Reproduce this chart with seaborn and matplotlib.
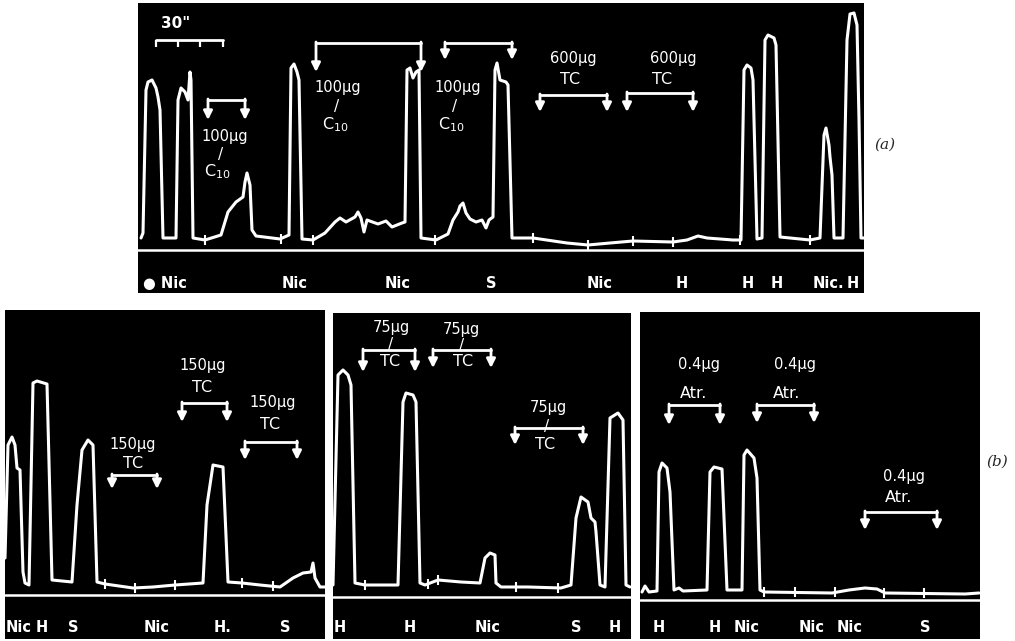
import matplotlib
matplotlib.use("Agg")
import numpy as np
import matplotlib.pyplot as plt
import seaborn as sns

# ---- kymograph traces (time units, height above recorder line) ----
A_T = [3, 5, 8, 10, 14, 18, 20, 22, 25, 38, 40, 43, 47, 50, 52, 53, 55, 67, 83, 90, 98, 105, 107, 109,
       112, 114, 118, 142, 151, 153, 156, 159, 161, 164, 175, 187, 197, 202, 208, 217, 220, 223, 226,
       229, 240, 248, 254, 264, 267, 269, 272, 275, 278, 281, 283, 298, 310, 315, 320, 322, 325, 328,
       332, 338, 344, 348, 351, 355, 357, 359, 362, 368, 370, 374, 395, 429, 450, 472, 495, 535, 549,
       560, 569, 595, 603, 606, 609, 613, 615, 619, 624, 627, 630, 636, 638, 642, 652, 672, 682, 686,
       688, 691, 692, 694, 696, 705, 709, 712, 716, 719, 721, 723, 726]
A_H = [12, 17, 160, 168, 170, 162, 153, 140, 12, 12, 150, 162, 158, 150, 178, 170, 12, 10, 15, 38, 48,
       53, 68, 77, 65, 20, 14, 11, 15, 182, 186, 178, 170, 11, 10, 17, 28, 32, 28, 33, 38, 32, 18, 30,
       26, 29, 23, 27, 28, 180, 182, 172, 178, 180, 12, 10, 16, 30, 38, 44, 47, 37, 31, 28, 30, 22, 30,
       33, 180, 187, 170, 168, 165, 12, 12, 7, 5, 7, 9, 8, 10, 14, 12, 10, 10, 180, 185, 182, 170, 11,
       12, 210, 215, 212, 205, 13, 12, 10, 12, 115, 122, 105, 93, 75, 12, 12, 210, 236, 237, 225, 130,
       12, 12]
A_MARKS = [67, 143, 175, 297, 395, 450, 495, 535, 602, 672]
A_LABELS = ["● Nic", "Nic", "Nic", "S", "Nic", "H", "H", "H", "Nic.", "H"]
A_LABEL_T = [27, 157, 260, 353, 462, 544, 610, 639, 690, 715]

B1_T = [0, 3, 7, 10, 12, 15, 18, 20, 24, 28, 32, 42, 47, 67, 72, 77, 83, 88, 92, 100, 128, 148, 170,
        198, 202, 208, 218, 223, 237, 255, 275, 288, 298, 306, 308, 310, 315, 320]
B1_H = [37, 150, 158, 150, 127, 125, 23, 12, 10, 212, 214, 211, 15, 13, 90, 145, 155, 150, 13, 11, 7,
        8, 10, 12, 90, 130, 128, 13, 12, 10, 8, 17, 22, 23, 32, 17, 8, 8]
B1_MARKS = [100, 130, 170, 237, 268]
B1_LABELS = ["Nic", "H", "S", "Nic", "H.", "S"]
B1_LABEL_T = [14, 37, 68, 152, 218, 280]

B2_T = [0, 5, 10, 15, 18, 22, 32, 65, 70, 73, 80, 83, 87, 92, 105, 128, 147, 152, 157, 162, 163, 168,
        195, 228, 238, 243, 248, 255, 258, 262, 263, 267, 272, 277, 285, 290, 293, 297]
B2_H = [12, 222, 227, 222, 212, 14, 12, 12, 195, 204, 202, 195, 14, 12, 17, 15, 14, 39, 44, 42, 14, 10,
        10, 9, 12, 79, 100, 95, 79, 75, 65, 12, 10, 179, 184, 177, 12, 10]
B2_MARKS = [32, 95, 105, 183, 225]
B2_LABELS = ["H", "H", "Nic", "S", "H"]
B2_LABEL_T = [7, 77, 155, 243, 282]

B3_T = [2, 5, 9, 17, 19, 22, 27, 30, 34, 39, 43, 67, 70, 74, 82, 87, 102, 104, 107, 114, 117, 120, 124,
        192, 209, 225, 237, 245, 325, 339]
B3_H = [8, 14, 8, 9, 128, 137, 132, 108, 10, 12, 9, 10, 128, 133, 131, 10, 10, 145, 150, 142, 122, 10,
        8, 7, 10, 12, 11, 7, 6, 7]
B3_MARKS = [124, 155, 195, 244, 284]
B3_LABELS = ["H", "H", "Nic", "Nic", "Nic", "S"]
B3_LABEL_T = [19, 75, 107, 172, 210, 285]

# doses: (amount, substance) with bracket (start, end, bar height, arrow tip)
A_DOSES = [("100µg", "C$_{10}$", 87, 114, 79, 78, 70, 107, 150, 130),
           ("100µg", "C$_{10}$", 200, 163, 197, 125, 178, 283, 207, 178),
           ("100µg", "C$_{10}$", 320, 163, 313, 125, 307, 374, 207, 190),
           ("600µg", "TC", 435, 192, 432, 171, 402, 469, 155, 138),
           ("600µg", "TC", 535, 192, 524, 171, 489, 555, 157, 138)]
B1_DOSES = [("150µg", "TC", 128, 150, 128, 131, 107, 152, 120, 106),
            ("150µg", "TC", 198, 229, 197, 207, 177, 222, 192, 173),
            ("150µg", "TC", 268, 192, 265, 170, 240, 292, 153, 135)]
B2_DOSES = [("75µg", "TC", 58, 269, 57, 235, 30, 82, 247, 225),
            ("75µg", "TC", 128, 267, 130, 235, 100, 158, 247, 229),
            ("75µg", "TC", 215, 189, 212, 152, 182, 250, 169, 152)]
B3_DOSES = [("0.4µg", "Atr.", 59, 235, 54, 207, 29, 80, 195, 175),
            ("0.4µg", "Atr.", 155, 235, 147, 207, 117, 174, 195, 177),
            ("0.4µg", "Atr.", 264, 124, 259, 102, 225, 297, 88, 70)]

sns.set_theme(style="white")
plt.rcParams["font.family"] = ["DejaVu Sans"]

W_PX, H_PX = 1015, 641
fig = plt.figure(figsize=(W_PX / 100, H_PX / 100), dpi=100)
fig.patch.set_facecolor("white")


def make_ax(box, base):
    left, top, right, bottom = box
    ax = fig.add_axes([left / W_PX, 1 - bottom / H_PX, (right - left) / W_PX, (bottom - top) / H_PX])
    ax.set_facecolor("black")
    ax.set_xlim(0, right - left)
    ax.set_ylim(base - bottom, base - top)
    ax.set_xticks([])
    ax.set_yticks([])
    for s in ax.spines.values():
        s.set_visible(False)
    return ax


def draw_panel(ax, t, h, marks, labels, label_t, label_y, doses):
    sns.lineplot(x=t, y=h, ax=ax, color="white", lw=2.2, sort=False, estimator=None)
    ax.axhline(0, color="white", lw=1.8)
    mh = np.interp(marks, t, h)
    ax.vlines(marks, mh - 5, mh + 5, color="white", lw=1.5)
    for lab, x in zip(labels, label_t):
        ax.text(x, label_y, lab, color="white", ha="center", va="center",
                fontsize=10.5, fontweight="bold")
    for amt, sub, ax_, ay, sx, sy, x0, x1, yb, yt in doses:
        ax.text(ax_, ay, amt, color="white", ha="center", va="center", fontsize=10.5)
        ax.text(sx, sy, sub, color="white", ha="center", va="center", fontsize=11.5)
        if ay - sy > 30:  # hand-drawn stroke joining dose and drug
            ax.text((ax_ + sx) / 2, (ay + sy) / 2, "/", color="white", ha="center",
                    va="center", fontsize=11)
        ax.plot([x0, x1], [yb, yb], color="white", lw=2)
        for x in (x0, x1):
            ax.annotate("", xy=(x, yt), xytext=(x, yb + 1),
                        arrowprops=dict(arrowstyle="-|>", color="white", lw=2,
                                        mutation_scale=13, shrinkA=0, shrinkB=0))


ax_a = make_ax((138, 3, 864, 293), 250)
draw_panel(ax_a, A_T, A_H, A_MARKS, A_LABELS, A_LABEL_T, -33, A_DOSES)
# 30 s time scale
ax_a.text(38, 227, '30"', color="white", ha="center", va="center", fontsize=11, fontweight="bold")
ax_a.plot([18, 85], [210, 210], color="white", lw=2)
ax_a.vlines([18, 40, 62, 85], 203, 210, color="white", lw=1.6)

ax_b1 = make_ax((5, 310, 325, 639), 595)
draw_panel(ax_b1, B1_T, B1_H, B1_MARKS, B1_LABELS, B1_LABEL_T, -32, B1_DOSES)

ax_b2 = make_ax((333, 313, 631, 639), 597)
draw_panel(ax_b2, B2_T, B2_H, B2_MARKS, B2_LABELS, B2_LABEL_T, -31, B2_DOSES)

ax_b3 = make_ax((640, 312, 980, 639), 600)
draw_panel(ax_b3, B3_T, B3_H, B3_MARKS, B3_LABELS, B3_LABEL_T, -27, B3_DOSES)

fig.text(885 / W_PX, 1 - 145 / H_PX, "(a)", fontsize=11, style="italic",
         family="DejaVu Serif", ha="center", va="center")
fig.text(997 / W_PX, 1 - 462 / H_PX, "(b)", fontsize=11, style="italic",
         family="DejaVu Serif", ha="center", va="center")

fig.savefig("out.png", dpi=100, facecolor="white")
